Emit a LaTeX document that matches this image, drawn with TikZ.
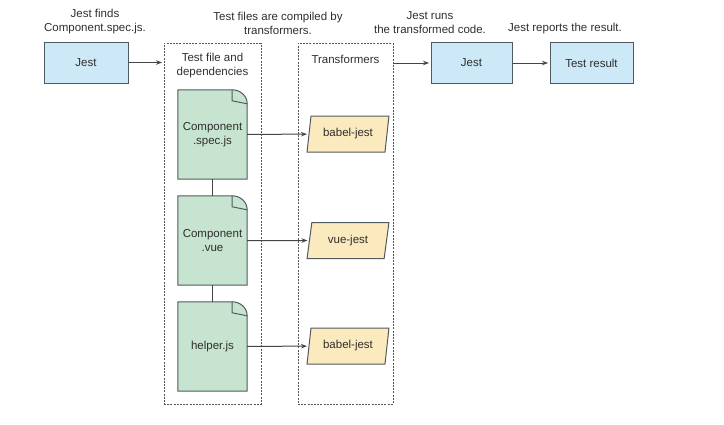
\documentclass[tikz,border=0pt]{standalone}
\usepackage{fontspec}
\setmainfont{Liberation Sans}
\usetikzlibrary{shapes.geometric,backgrounds,arrows.meta}
\definecolor{jblue}{HTML}{CDE8F7}
\definecolor{jgreen}{HTML}{C6E4CF}
\definecolor{jyellow}{HTML}{FBEABD}
\definecolor{jline}{HTML}{505A61}
\definecolor{jtext}{HTML}{2E2E2E}
\definecolor{jdash}{HTML}{555555}
\definecolor{jarrow}{HTML}{444444}
\newcommand\mydocshape[1]{%
  \begin{scope}[on background layer]
    \draw[docline,fill=jgreen] (#1.north west) -- ([xshift=-15pt]#1.north east)
      .. controls ([xshift=-7pt]#1.north east) and ([yshift=-6pt]#1.north east) .. ([yshift=-14pt]#1.north east)
      -- (#1.south east) -- (#1.south west) -- cycle;
    \draw[docline] ([xshift=-15pt]#1.north east) -- ([xshift=-15pt,yshift=-11pt]#1.north east) -- ([yshift=-14pt]#1.north east);
  \end{scope}}
\begin{document}
\begin{tikzpicture}[x=1pt,y=-1pt,
  every node/.style={font=\fontsize{11.5}{14}\selectfont, text=jtext},
  bluebox/.style={draw=jline, line width=1pt, fill=jblue, minimum height=41pt, inner sep=0pt},
  docnode/.style={minimum width=69pt, minimum height=89pt, inner sep=0pt, align=center},
  docline/.style={draw=jline, line width=1pt},
  dbox/.style={draw=jdash, line width=1pt, dash pattern=on 2pt off 1.2pt, minimum width=97pt, minimum height=361pt, inner sep=0pt},
  para/.style={trapezium, trapezium left angle=76, trapezium right angle=104, trapezium stretches=true,
    draw=jline, line width=1pt, fill=jyellow, minimum width=82pt, minimum height=36pt, inner sep=0pt},
  arr/.style={draw=jarrow, line width=1pt, -{Stealth[length=6pt,width=4.5pt]}, shorten >=1.5pt},
  conn/.style={draw=jarrow, line width=1pt},
  lbl/.style={align=center, inner sep=0pt}
]
\useasboundingbox (0,0) rectangle (724,424);

% top labels
\node[lbl] (l1) at (95,22) {Jest finds\\Component.spec.js.};
\node[lbl] (l2) at (278,23) {Test files are compiled by\\transformers.};
\node[lbl] (l3) at (430,22.5) {Jest runs\\the transformed code.};
\node[lbl] (l4) at (565,29) {Jest reports the result.};

% blue boxes
\node[bluebox, minimum width=84pt] (j1) at (86,62.5) {Jest};
\node[bluebox, minimum width=81pt] (j2) at (471.5,63) {Jest};
\node[bluebox, minimum width=83pt] (tr) at (591.5,63) {Test result};

% dashed containers
\node[dbox] (tf) at (212.5,223.5) {};
\node[dbox, minimum width=95pt] (tx) at (345.5,223.5) {};
\node[lbl] (tft) at (212.5,66) {Test file and\\dependencies};
\node[lbl] (txt) at (345.5,59) {Transformers};

% documents
\node[docnode] (d1) at (212.5,134.5) {Component\\.spec.js};
\node[docnode] (d2) at (212.5,240.5) {Component\\.vue};
\node[docnode] (d3) at (212.5,346.5) {helper.js};
\mydocshape{d1}
\mydocshape{d2}
\mydocshape{d3}

% transformers
\node[para] (b1) at (348,134) {babel-jest};
\node[para] (b2) at (348,240.5) {vue-jest};
\node[para] (b3) at (348,346) {babel-jest};

% connectors
\draw[arr] (j1.east) -- (j1.east -| tf.west);
\draw[arr] (tx.east |- j2.west) -- (j2.west);
\draw[arr] (j2) -- (tr);
\draw[conn] (d1) -- (d2);
\draw[conn] (d2) -- (d3);
\draw[arr] (d1) -- (b1);
\draw[arr] (d2) -- (b2);
\draw[arr] (d3) -- (b3);
\end{tikzpicture}
\end{document}
